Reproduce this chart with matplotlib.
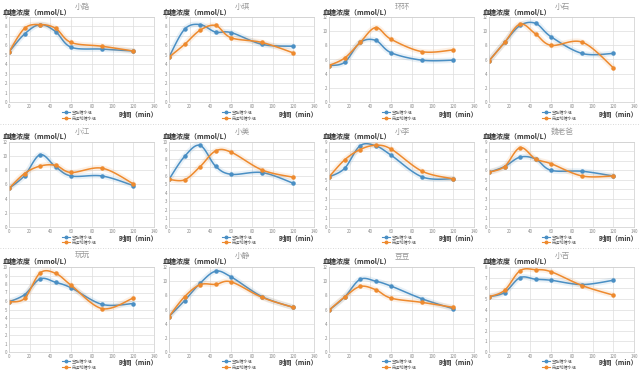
import numpy as np
import matplotlib
matplotlib.use("Agg")
import matplotlib.pyplot as plt

plt.rcParams['font.family'] = ['Noto Sans CJK SC', 'DejaVu Sans']

# 测量时间点 (min)
times = [0, 15, 30, 45, 60, 90, 120]

names = ['小路', '小琪', '环环', '小石',
         '小江', '小美', '小李', '魏老爸',
         '玩玩', '小静', '豆豆', '小吉']

legend_labels = ['空腹糖水组', '先运动糖水组']

# 两组血糖值 (mmol/L)
group_a = [
    [5.3, 7.2, 8.2, 7.45, 5.8, 5.6, 5.4],
    [4.75, 7.7, 8.2, 7.4, 7.35, 6.1, 5.9],
    [5.15, 5.6, 8.4, 8.7, 6.95, 5.9, 5.9],
    [5.8, 8.4, 10.8, 11.1, 9.2, 6.85, 6.85],
    [5.45, 7.25, 10.2, 8.5, 7.2, 7.2, 5.85],
    [5.6, 8.3, 9.6, 7.15, 6.2, 6.4, 5.15],
    [5.3, 6.2, 8.6, 8.6, 7.6, 5.3, 5.1],
    [5.8, 6.4, 7.4, 7.2, 6.0, 5.9, 5.4],
    [5.9, 6.75, 8.6, 8.2, 7.55, 5.6, 5.7],
    [5.0, 7.25, 9.7, 11.4, 10.6, 7.8, 6.3],
    [5.9, 7.75, 10.25, 10.0, 9.3, 7.5, 6.1],
    [5.2, 5.6, 7.0, 6.85, 6.75, 6.35, 6.75],
]
group_b = [
    [5.3, 7.8, 8.2, 7.8, 6.3, 5.9, 5.4],
    [4.75, 6.1, 7.6, 8.1, 6.8, 6.3, 5.2],
    [5.15, 6.2, 8.4, 10.5, 8.85, 7.1, 7.35],
    [5.8, 8.4, 11.0, 9.6, 8.0, 8.45, 4.85],
    [5.45, 7.55, 8.6, 8.7, 7.7, 8.3, 6.1],
    [5.6, 5.55, 7.1, 8.95, 8.8, 6.7, 5.85],
    [5.3, 7.1, 8.2, 8.65, 8.25, 5.9, 5.1],
    [5.8, 6.4, 8.4, 7.2, 6.7, 5.4, 5.4],
    [5.9, 6.3, 9.3, 9.25, 7.85, 5.1, 6.35],
    [5.0, 7.8, 9.5, 9.55, 9.9, 7.7, 6.3],
    [5.9, 7.75, 9.25, 8.8, 7.6, 7.0, 6.3],
    [5.2, 5.8, 7.65, 7.75, 7.55, 6.25, 5.35],
]

# y轴上限和刻度间隔
y_max = [9, 9, 12, 12, 12, 10, 9, 9, 10, 12, 12, 8]
y_step = [1, 1, 2, 2, 2, 1, 1, 1, 1, 2, 2, 1]

blue = '#4a8fc4'
orange = '#ee8a2e'


def smooth(xs, ys, n=20):
    # Catmull-Rom 平滑, 模仿 Excel 的平滑线
    p = np.column_stack([xs, ys]).astype(float)
    p = np.vstack([p[0], p, p[-1]])
    out = []
    for i in range(1, len(p) - 2):
        p0, p1, p2, p3 = p[i - 1], p[i], p[i + 1], p[i + 2]
        t = np.linspace(0, 1, n)[:, None]
        seg = 0.5 * ((2 * p1) + (-p0 + p2) * t +
                     (2 * p0 - 5 * p1 + 4 * p2 - p3) * t ** 2 +
                     (-p0 + 3 * p1 - 3 * p2 + p3) * t ** 3)
        out.append(seg)
    out = np.vstack(out)
    return out[:, 0], out[:, 1]


W, H = 640, 373
fig = plt.figure(figsize=(W / 100, H / 100), dpi=100)
fig.patch.set_facecolor('white')

row_top = [17, 142, 267]
for k in range(12):
    r, c = divmod(k, 4)
    left = c * 160 + 9
    top = row_top[r]
    ax = fig.add_axes([left / W, 1 - (top + 85) / H, 145 / W, 85 / H])
    for ys, col in [(group_a[k], blue), (group_b[k], orange)]:
        sx, sy = smooth(times, ys)
        ax.plot(sx, sy, color=col, lw=4, alpha=0.12, solid_capstyle='round')
        ax.plot(sx, sy, color=col, lw=1.1)
        ax.plot(times, ys, 'o', color=col, ms=2.2)
    ax.set_xlim(0, 140)
    ax.set_ylim(0, y_max[k])
    ax.set_xticks(range(0, 141, 20))
    ax.set_yticks(np.arange(0, y_max[k] + 0.01, y_step[k]))
    ax.tick_params(labelsize=3.2, length=0, pad=1.2, colors='#888888')
    ax.grid(True, color='#dddddd', lw=0.5)
    for s in ax.spines.values():
        s.set_color('#cccccc')
        s.set_linewidth(0.5)
    ax.set_axisbelow(True)

    x0 = c * 160
    y0 = r * 124.5
    fig.text((x0 + 3) / W, 1 - (y0 + 12) / H, '血糖浓度（mmol/L）',
             fontsize=5, fontweight='bold', color='#333333', va='center')
    fig.text((x0 + 82) / W, 1 - (y0 + 7) / H, names[k],
             fontsize=5.5, color='#999999', ha='center', va='center')
    fig.text((x0 + 158) / W, 1 - (y0 + 114) / H, '时间（min）', ha='right',
             fontsize=4.8, fontweight='bold', color='#333333', va='center')
    for j, (lab, col) in enumerate(zip(legend_labels, [blue, orange])):
        yy = 1 - (y0 + 112 + j * 5.5) / H
        fig.lines.append(plt.Line2D([(x0 + 62) / W, (x0 + 70) / W], [yy, yy],
                                    color=col, lw=0.8, transform=fig.transFigure))
        fig.lines.append(plt.Line2D([(x0 + 66) / W], [yy], marker='o', ms=1.8,
                                    color=col, transform=fig.transFigure))
        fig.text((x0 + 72) / W, yy, lab, fontsize=3, color='#666666', va='center')

# 行间虚线
for yl in [124, 248]:
    fig.lines.append(plt.Line2D([0, 1], [1 - yl / H, 1 - yl / H], color='#cccccc',
                                lw=0.6, ls=(0, (1, 2)), transform=fig.transFigure))

fig.savefig('out.png', dpi=100)
